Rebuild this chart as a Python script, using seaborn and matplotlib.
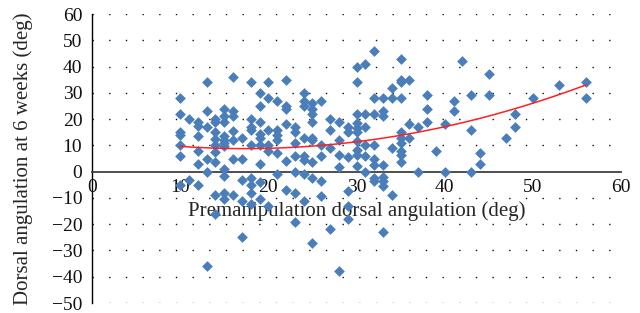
import numpy as np
import pandas as pd
import matplotlib
matplotlib.use("Agg")
import matplotlib.pyplot as plt
import seaborn as sns

# Premanipulation dorsal angulation (deg), one line per x value
pre_angle = [
    10, 10, 10, 10, 10, 10, 10,
    11, 11,
    12, 12, 12, 12, 12, 12,
    13, 13, 13, 13, 13, 13,
    14, 14, 14, 14, 14, 14, 14, 14, 14,
    15, 15, 15, 15, 15, 15, 15, 15, 15, 15, 15,
    16, 16, 16, 16, 16, 16, 16,
    17, 17, 17, 17, 17,
    18, 18, 18, 18, 18, 18, 18, 18, 18,
    19, 19, 19, 19, 19, 19, 19, 19, 19,
    20, 20, 20, 20, 20, 20,
    21, 21, 21, 21, 21, 21,
    22, 22, 22, 22, 22, 22,
    23, 23, 23, 23, 23, 23, 23,
    24, 24, 24, 24, 24, 24, 24, 24,
    25, 25, 25, 25, 25, 25, 25, 25, 25,
    26, 26, 26, 26, 26,
    27, 27, 27, 27,
    28, 28, 28, 28, 28,
    29, 29, 29, 29, 29, 29,
    30, 30, 30, 30, 30, 30, 30, 30, 30, 30,
    31, 31, 31, 31, 31, 31,
    32, 32, 32, 32, 32, 32, 32, 32,
    33, 33, 33, 33, 33, 33, 33, 33,
    34, 34, 34, 34,
    35, 35, 35, 35, 35, 35, 35, 35, 35, 35,
    36, 36, 36,
    37, 37,
    38, 38, 38,
    39,
    40, 40,
    41, 41,
    42,
    43, 43, 43,
    44, 44,
    45, 45,
    47,
    48, 48,
    50,
    53,
    56, 56,
]

# Dorsal angulation at 6 weeks (deg), same order
dorsal_6wk = [
    28, 22, 15, 14, 10, 6, -5,
    20, -3,
    19, 17.5, 13.5, 8, 3, -5,
    34, 23, 17, 5, 0, -36,
    20, 19, 15, 12.5, 10, 7.5, 3.8, -9, -16,
    24, 21, 19, 13.5, 12, 11, 9.7, 1, -1.5, -8.3, -10.3,
    36, 23, 21, 15.5, 12, 5, -9,
    13, 5, -3, -11, -25,
    34, 20, 17, 16, 10, -2.4, -5, -8, -12.3,
    30, 25, 19, 14.5, 13, 10, 3, -4, -10.5,
    34, 28, 16, 10, 8, -13,
    27, 16, 14, 12, 7, -1,
    35, 25, 24, 18, 4, -7,
    17, 15, 11, 6, 0, -8, -19,
    30, 27, 25, 13, 6, 4.5, -1, -11,
    26, 24, 22, 19, 13, 12, 3.6, -2.3, -27,
    27, 10, 6, -3.7, -9.3,
    20, 16, 9, -22,
    19, 12, 6.5, 1.8, -38,
    17, 15, 5.6, -7.5, -13, -18,
    40, 34, 22, 18.6, 16.7, 15, 11.6, 8.4, 6.5, 2,
    41, 22, 17, 10, 6, 0,
    46, 28, 22, 10, 5, 2.7, -2.4, -3.7,
    28, 23, 21, 2.7, -2, -3.7, -5.3, -23,
    32, 28, 9, -9,
    43, 35, 34, 28, 15, 13, 11, 8, 6.5, 3.6,
    35, 18, 13,
    17, 0,
    29, 24, 19,
    8,
    18, 0,
    27, 23,
    42,
    29, 16, 0,
    7, 3,
    37, 29,
    13,
    22, 17,
    28,
    33,
    34, 28,
]

x_ticks = [0, 10, 20, 30, 40, 50, 60]
y_ticks = [-50, -40, -30, -20, -10, 0, 10, 20, 30, 40, 50, 60]

df = pd.DataFrame({"pre": pre_angle, "post": dorsal_6wk})

sns.set_style("white")
plt.rcParams["font.family"] = ["Liberation Serif", "DejaVu Serif"]
plt.rcParams["axes.unicode_minus"] = True

fig = plt.figure(figsize=(6.4, 3.13), dpi=100)
ax = fig.add_axes([0.1438, 0.0319, 0.8266, 0.9233])

# sparse dotted horizontal grid
for yv in y_ticks:
    if yv != 0:
        ax.axhline(yv, color="#111111", lw=1.0, linestyle=(0, (1.0, 11.0)), zorder=0)

sns.scatterplot(data=df, x="pre", y="post", marker="D", s=30, color="#4A7EBB",
                linewidth=0, ax=ax, zorder=3)

# 2nd order polynomial trend line
coef = np.polyfit(df["pre"], df["post"], 2)
xs = np.linspace(df["pre"].min(), df["pre"].max(), 200)
ax.plot(xs, np.polyval(coef, xs), color="#FF2020", lw=1.1, zorder=4)

ax.set_xlim(0, 60)
ax.set_ylim(-50, 60)
ax.set_xticks(x_ticks)
ax.set_yticks(y_ticks)
ax.spines["top"].set_visible(False)
ax.spines["right"].set_visible(False)
ax.spines["bottom"].set_position(("data", 0))
ax.spines["bottom"].set_color("#404040")
ax.spines["bottom"].set_linewidth(1.3)
ax.spines["left"].set_color("#000000")
ax.spines["left"].set_linewidth(1.0)
ax.tick_params(axis="both", length=0, labelsize=14, colors="#111111")
ax.tick_params(axis="x", pad=5)
ax.tick_params(axis="y", pad=7)

ax.set_xlabel("Premanipulation dorsal angulation (deg)", fontsize=15, labelpad=4)
ax.set_ylabel("Dorsal angulation at 6 weeks (deg)", fontsize=15)
ax.yaxis.set_label_coords(-0.112, 0.5)

fig.savefig("out.png", dpi=100)
